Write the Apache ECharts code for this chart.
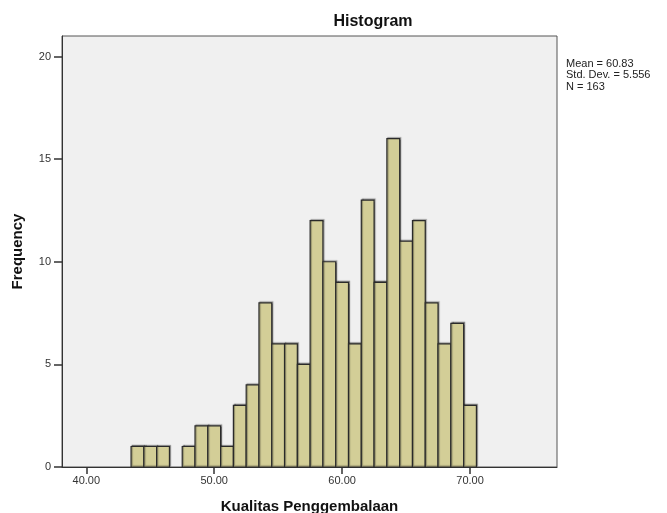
<!DOCTYPE html>
<html>
<head>
<meta charset="utf-8">
<script src="https://cdn.jsdelivr.net/npm/echarts@6/dist/echarts.min.js"></script>
<style>html,body{margin:0;padding:0;background:#fff;}#c{width:667px;height:513px;}</style>
</head>
<body>
<div id="c"></div>
<script>
var binCenters = [44,45,46,47,48,49,50,51,52,53,54,55,56,57,58,59,60,61,62,63,64,65,66,67,68,69,70];
var frequencies = [1,1,1,0,1,2,2,1,3,4,8,6,6,5,12,10,9,6,13,9,16,11,12,8,6,7,3];
var binWidth = 1;
var xTicks = [40,50,60,70];
var yTicks = [0,5,10,15,20];
var statsLines = ['Mean = 60.83','Std. Dev. = 5.556','N = 163'];

var data = binCenters.map(function(c,i){return [c, frequencies[i]];}).filter(function(d){return d[1]>0;});

var chart = echarts.init(document.getElementById('c'));
chart.setOption({
  animation:false,
  backgroundColor:'#fff',
  title:{text:'Histogram', left:368, textAlign:'center', top:9,
    textStyle:{fontFamily:'Liberation Sans, Arial', fontSize:16, fontWeight:'bold', color:'#111'}},
  grid:{left:62, right:110, top:36, bottom:46, show:true, backgroundColor:'#f0f0f0', borderColor:'#555', borderWidth:1, outerBoundsMode:'none', containLabel:false},
  xAxis:{type:'value', min:38.1, max:76.8,
    name:'Kualitas Penggembalaan', nameLocation:'middle', nameGap:32,
    nameTextStyle:{fontFamily:'Liberation Sans, Arial', fontSize:15, fontWeight:'bold', color:'#111'},
    axisLine:{show:true, lineStyle:{color:'#333'}},
    axisTick:{show:true, length:7, lineStyle:{color:'#333', width:1.5}, customValues:xTicks},
    axisLabel:{customValues:xTicks, formatter:function(v){return v.toFixed(2);}, margin:8,
      fontFamily:'Liberation Sans, Arial', fontSize:11, color:'#333'},
    splitLine:{show:false}},
  yAxis:{type:'value', min:0, max:21,
    name:'Frequency', nameLocation:'middle', nameGap:37, nameRotate:90,
    nameTextStyle:{fontFamily:'Liberation Sans, Arial', fontSize:15, fontWeight:'bold', color:'#111'},
    axisLine:{show:true, lineStyle:{color:'#333'}},
    axisTick:{show:true, length:8, lineStyle:{color:'#333', width:1.5}, customValues:yTicks},
    axisLabel:{customValues:yTicks, margin:11, fontFamily:'Liberation Sans, Arial', fontSize:11, color:'#333'},
    splitLine:{show:false}},
  series:[{
    type:'custom',
    data:data,
    renderItem:function(params, api){
      var c = api.value(0), f = api.value(1);
      var p0 = api.coord([c-binWidth/2, f]);
      var p1 = api.coord([c+binWidth/2, 0]);
      return {type:'rect', shape:{x:p0[0], y:p0[1], width:p1[0]-p0[0], height:p1[1]-p0[1]},
        style:{fill:'#d3ce97', stroke:'#2a2a2a', lineWidth:1.2,
          shadowColor:'rgba(0,0,0,0.35)', shadowOffsetX:1, shadowOffsetY:-1, shadowBlur:1}};
    }
  }],
  graphic:[{type:'text', left:566, top:58,
    style:{text:statsLines.join('\n'), fontFamily:'Liberation Sans Narrow, Liberation Sans, Arial', fontSize:11, lineHeight:11.5, fill:'#222'}}]
});
</script>
</body>
</html>
